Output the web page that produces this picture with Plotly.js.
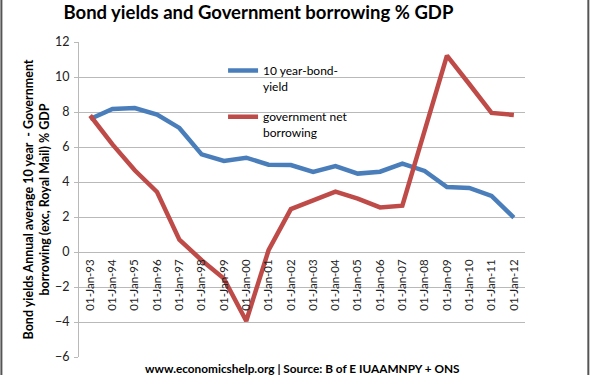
<!DOCTYPE html>
<html>
<head>
<meta charset="utf-8">
<script src="https://cdn.plot.ly/plotly-3.0.1.min.js"></script>
<style>
  html, body { margin: 0; padding: 0; background: #fff; }
  #chart { width: 590px; height: 375px; }
</style>
</head>
<body>
<div id="chart"></div>
<script>
const categories = ["01-Jan-93","01-Jan-94","01-Jan-95","01-Jan-96","01-Jan-97","01-Jan-98","01-Jan-99","01-Jan-00","01-Jan-01","01-Jan-02","01-Jan-03","01-Jan-04","01-Jan-05","01-Jan-06","01-Jan-07","01-Jan-08","01-Jan-09","01-Jan-10","01-Jan-11","01-Jan-12"];
const bondYield = [7.6, 8.17, 8.23, 7.85, 7.09, 5.58, 5.2, 5.39, 4.99, 4.97, 4.57, 4.91, 4.48, 4.59, 5.05, 4.63, 3.71, 3.66, 3.2, 1.97];
const netBorrowing = [7.8, 6.15, 4.67, 3.43, 0.71, -0.47, -1.52, -3.94, 0.1, 2.45, 2.95, 3.45, 3.05, 2.55, 2.65, 6.95, 11.22, 9.6, 7.95, 7.83];
const yTicks = [-6, -4, -2, 0, 2, 4, 6, 8, 10, 12];
const seriesNames = ["10 year-bond-<br>yield", "government net<br>borrowing"];
const titleText = "Bond yields and Government borrowing % GDP";
const yTitleText = "Bond yields Annual average 10 year  - Government<br>borrowing (exc, Royal Mail) % GDP";
const footerText = "www.economicshelp.org | Source: B of E IUAAMNPY + ONS";

const FONT = "Lato, 'Liberation Sans', sans-serif";
const GRID = "#b9b9b9";

const traces = [
  { x: categories, y: bondYield, name: seriesNames[0], type: "scatter", mode: "lines",
    line: { color: "#4a7ebb", width: 4.5 }, legendgroup: "a" },
  { x: categories, y: netBorrowing, name: seriesNames[1], type: "scatter", mode: "lines",
    line: { color: "#be4b48", width: 4.5 }, legendgroup: "b" }
];

const layout = {
  width: 590, height: 375,
  margin: { l: 79, r: 65, t: 42, b: 18, pad: 0 },
  paper_bgcolor: "#fff", plot_bgcolor: "#fff",
  font: { family: FONT, color: "#222", size: 12 },
  showlegend: true,
  title: { text: "<b>" + titleText + "</b>", font: { family: FONT, size: 18.5, color: "#000" },
           xref: "container", x: 0.438, xanchor: "center", yref: "container", y: 0.967, yanchor: "middle" },
  xaxis: {
    type: "category", range: [-0.5, 19.5], anchor: "free", position: 1/3,
    tickmode: "array", tickvals: categories, ticktext: categories,
    tickangle: -90, tickfont: { family: FONT, size: 11.5, color: "#222" },
    showgrid: false, zeroline: false, showline: false, ticks: "", ticklabelstandoff: 4
  },
  yaxis: {
    range: [-6, 12], tickmode: "array", tickvals: yTicks,
    tickfont: { family: FONT, size: 12.5, color: "#222" },
    showgrid: true, gridcolor: GRID, gridwidth: 1,
    zeroline: true, zerolinecolor: GRID, zerolinewidth: 1,
    showline: true, linecolor: GRID, linewidth: 1,
    ticks: "outside", ticklen: 4, tickcolor: GRID, ticklabelstandoff: 2,
    title: { text: "<b>" + yTitleText + "</b>", font: { family: FONT, size: 12.5, color: "#000" }, standoff: 2 }
  },
  legend: {
    x: 0.323, xanchor: "left", y: 0.955, yanchor: "top",
    bgcolor: "rgba(0,0,0,0)", borderwidth: 0,
    font: { family: FONT, size: 12, color: "#000" },
    valign: "top", itemwidth: 30, traceorder: "grouped", tracegroupgap: 12
  },
  annotations: [
    { text: "<b>" + footerText + "</b>", xref: "paper", yref: "paper", x: 0.5, y: -0.035,
      xanchor: "center", yanchor: "middle", showarrow: false, font: { family: FONT, size: 11.8, color: "#000" } }
  ],
  shapes: [
    { type: "line", xref: "paper", yref: "paper", x0: -0.174, x1: -0.174, y0: -0.06, y1: 1.14, line: { color: "#555", width: 2 } },
    { type: "line", xref: "paper", yref: "paper", x0: 1.142, x1: 1.142, y0: -0.06, y1: 1.14, line: { color: "#555", width: 2 } }
  ]
};

Plotly.newPlot("chart", traces, layout, { displayModeBar: false, staticPlot: true });
</script>
</body>
</html>
